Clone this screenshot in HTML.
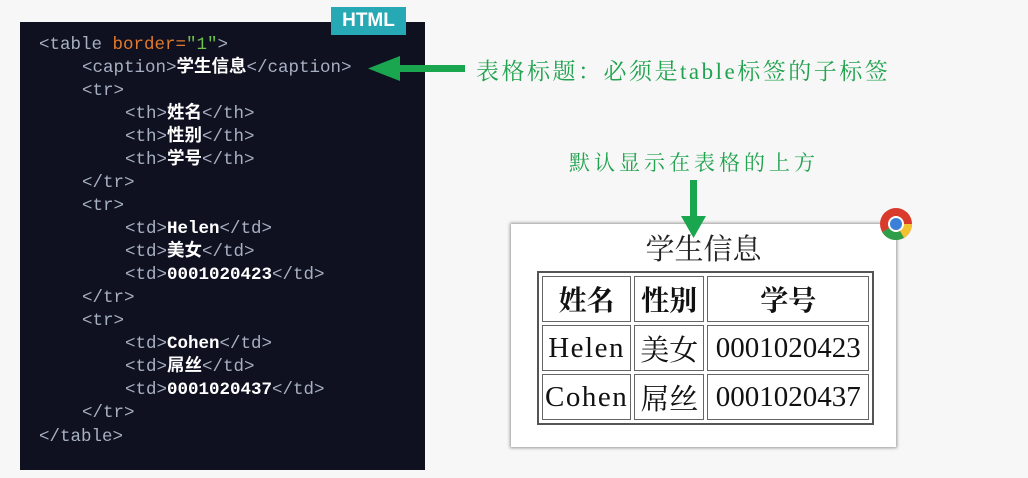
<!DOCTYPE html>
<html><head><meta charset="utf-8"><style>
body{margin:0;width:1028px;height:478px;background:#f7f7f7;position:relative;overflow:hidden;font-family:"Liberation Sans","Noto Sans CJK SC",sans-serif}
.code{position:absolute;left:20px;top:22px;width:405px;height:448px;background:#0f1120}
.badge{position:absolute;left:331px;top:7px;width:75px;height:28px;background:#27a9b5;color:#fff;font-weight:bold;font-size:19px;line-height:28px;text-align:center}
.ln{position:absolute;font-family:"Liberation Mono","Noto Sans CJK SC",monospace;font-size:17.5px;color:#a7b0c2;white-space:pre;line-height:20px}
.ln b{color:#fff}
.o{color:#e2792c}.g{color:#6cc24a}
.note{position:absolute;color:#22a34f;font-family:"Liberation Serif","Noto Serif CJK SC",serif;white-space:nowrap}
.win{position:absolute;left:511px;top:224px;width:385px;height:223px;background:#fff;box-shadow:0 0 3px 1px #999}
table{position:absolute;left:26px;top:47px;border:2px solid #555;border-spacing:3px;font-family:"Liberation Serif","Noto Serif CJK SC",serif;font-size:29px;color:#111}
td,th{border:1px solid #666;padding:0 2px;height:44px;text-align:center;font-weight:normal}
th{font-family:"Noto Serif CJK SC",serif;font-weight:bold;font-size:28px}
td.e{letter-spacing:1.5px}
.cap{position:absolute;left:0;width:385px;top:6px;text-align:center;font-family:"Noto Serif CJK SC",serif;font-size:29px;line-height:36px;color:#222}
</style></head><body>
<div class="code"></div>
<div class="badge">HTML</div>
<div class="ln" style="left:39px;top:35px">&lt;table <span class="o">border=</span><span class="g">"1"</span>&gt;</div>
<div class="ln" style="left:82px;top:58px">&lt;caption&gt;<b>学生信息</b>&lt;/caption&gt;</div>
<div class="ln" style="left:82px;top:81px">&lt;tr&gt;</div>
<div class="ln" style="left:125px;top:104px">&lt;th&gt;<b>姓名</b>&lt;/th&gt;</div>
<div class="ln" style="left:125px;top:127px">&lt;th&gt;<b>性别</b>&lt;/th&gt;</div>
<div class="ln" style="left:125px;top:150px">&lt;th&gt;<b>学号</b>&lt;/th&gt;</div>
<div class="ln" style="left:82px;top:173px">&lt;/tr&gt;</div>
<div class="ln" style="left:82px;top:196px">&lt;tr&gt;</div>
<div class="ln" style="left:125px;top:219px">&lt;td&gt;<b>Helen</b>&lt;/td&gt;</div>
<div class="ln" style="left:125px;top:242px">&lt;td&gt;<b>美女</b>&lt;/td&gt;</div>
<div class="ln" style="left:125px;top:265px">&lt;td&gt;<b>0001020423</b>&lt;/td&gt;</div>
<div class="ln" style="left:82px;top:288px">&lt;/tr&gt;</div>
<div class="ln" style="left:82px;top:311px">&lt;tr&gt;</div>
<div class="ln" style="left:125px;top:334px">&lt;td&gt;<b>Cohen</b>&lt;/td&gt;</div>
<div class="ln" style="left:125px;top:357px">&lt;td&gt;<b>屌丝</b>&lt;/td&gt;</div>
<div class="ln" style="left:125px;top:380px">&lt;td&gt;<b>0001020437</b>&lt;/td&gt;</div>
<div class="ln" style="left:82px;top:403px">&lt;/tr&gt;</div>
<div class="ln" style="left:39px;top:427px">&lt;/table&gt;</div>

<div class="note" style="left:476px;top:53px;font-size:23px;letter-spacing:2.5px">表格标题：必须是table标签的子标签</div>
<div class="note" style="left:569px;top:147px;font-size:21px;letter-spacing:4px">默认显示在表格的上方</div>

<div class="win">
<div class="cap">学生信息</div>
<table>
<tr><th style="width:78px">姓名</th><th style="width:64px">性别</th><th style="width:156px">学号</th></tr>
<tr><td class="e">Helen</td><td style="font-family:'Noto Serif CJK SC',serif">美女</td><td>0001020423</td></tr>
<tr><td class="e">Cohen</td><td style="font-family:'Noto Serif CJK SC',serif">屌丝</td><td>0001020437</td></tr>
</table>
</div>
<svg style="position:absolute;left:0;top:0" width="1028" height="478">
<rect x="395" y="65" width="70" height="7" fill="#1aa64f"/>
<polygon points="368,68.5 400,56 400,81" fill="#1aa64f"/>
<rect x="690" y="180" width="7" height="40" fill="#1aa64f"/>
<polygon points="693.5,238 681,216 706,216" fill="#1aa64f"/>
</svg>
<svg style="position:absolute;left:879px;top:207px" width="34" height="34">
<circle cx="17" cy="17" r="16" fill="#d93a2b"/>
<path d="M17 17 L3.1 25 A16 16 0 0 0 25 30.9 Z" fill="#2e9e48"/>
<path d="M17 17 L25 30.9 A16 16 0 0 0 33 17 Z" fill="#f2c230"/>
<circle cx="17" cy="17" r="8" fill="#fff"/>
<circle cx="17" cy="17" r="6" fill="#3a7fd8"/>
</svg>
</body></html>
